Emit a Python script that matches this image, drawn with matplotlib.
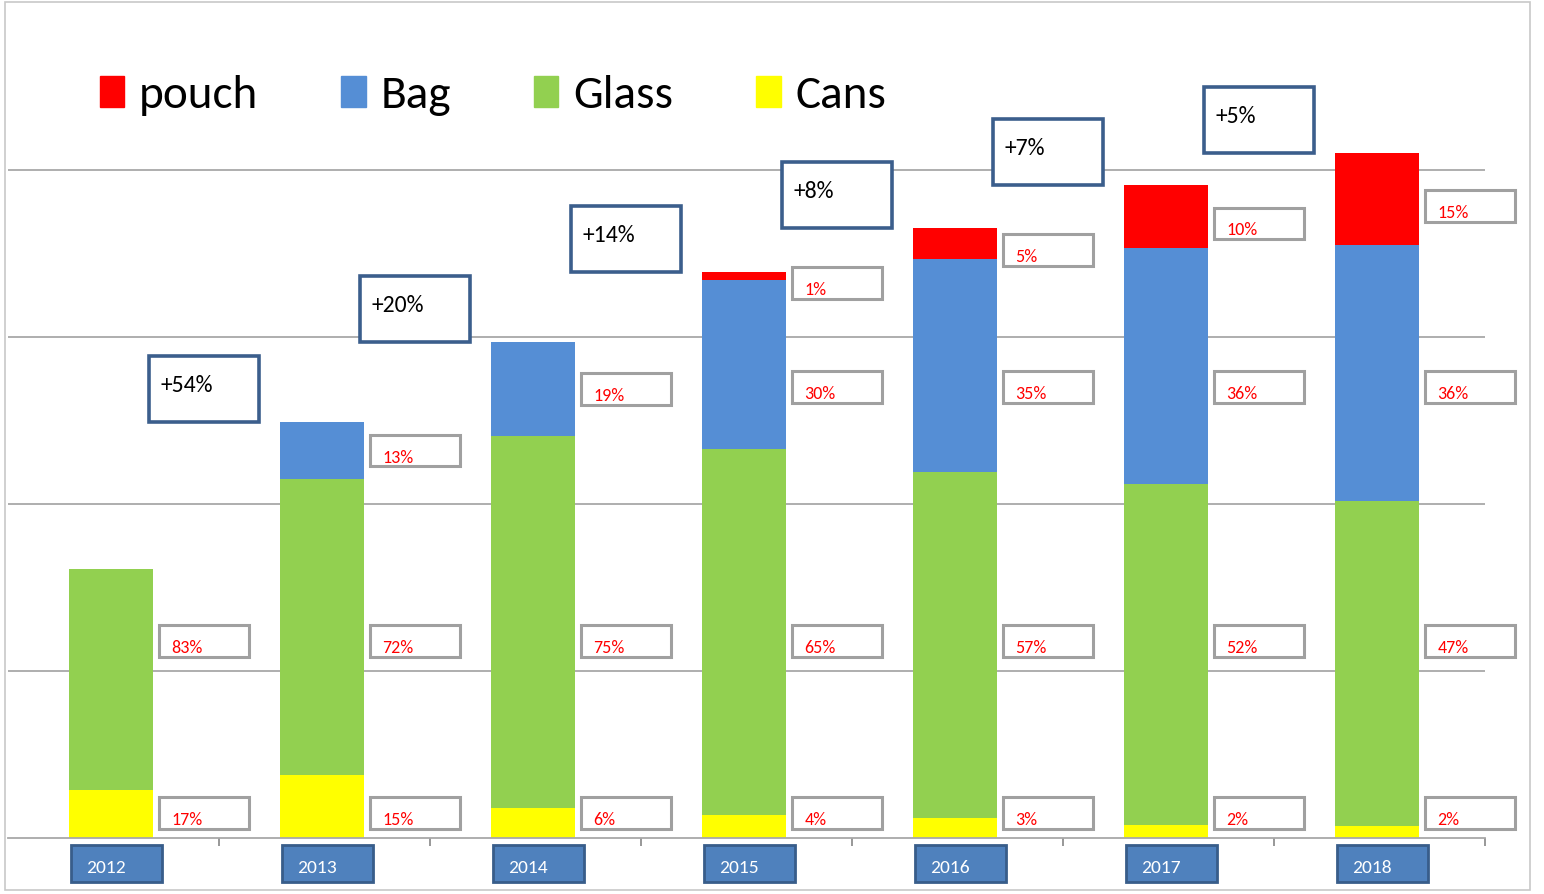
import matplotlib.pyplot as plt
from matplotlib.patches import Rectangle, Patch
from matplotlib.transforms import blended_transform_factory

plt.rcParams['font.family'] = ['Carlito', 'Liberation Sans Narrow', 'Roboto Condensed',
                               'Archivo Narrow', 'PT Sans Narrow', 'DejaVu Sans']

# данные (условные единицы, 100 = одна линия сетки)
years = ['2012', '2013', '2014', '2015', '2016', '2017', '2018']
cans = [29, 38, 18, 14, 12, 8, 7]
glass = [132, 177, 223, 219, 207, 204, 195]
bag = [0, 34, 56, 101, 128, 141, 153]
pouch = [0, 0, 0, 5, 18, 38, 55]

cans_pct = ['17%', '15%', '6%', '4%', '3%', '2%', '2%']
glass_pct = ['83%', '72%', '75%', '65%', '57%', '52%', '47%']
bag_pct = [None, '13%', '19%', '30%', '35%', '36%', '36%']
pouch_pct = [None, None, None, '1%', '5%', '10%', '15%']
growth = ['+54%', '+20%', '+14%', '+8%', '+7%', '+5%']

c_pouch, c_bag, c_glass, c_cans = '#ff0000', '#558ed5', '#92d050', '#ffff00'

fig = plt.figure(figsize=(15.44, 8.94), dpi=100)
ax = fig.add_axes([8 / 1544, 56 / 894, 1477 / 1544, 835 / 894])

x = list(range(len(years)))
w = 0.4
b1 = cans
b2 = [a + b for a, b in zip(b1, glass)]
b3 = [a + b for a, b in zip(b2, bag)]
total = [a + b for a, b in zip(b3, pouch)]

xb = [i - 0.012 for i in x]
ax.bar(xb, cans, w, color=c_cans, zorder=2)
ax.bar(xb, glass, w, bottom=b1, color=c_glass, zorder=2)
ax.bar(xb, bag, w, bottom=b2, color=c_bag, zorder=2)
ax.bar(xb, pouch, w, bottom=b3, color=c_pouch, zorder=2)

ax.set_xlim(-0.5, 6.5)
ax.set_ylim(0, 500)
ax.set_yticks([100, 200, 300, 400])
ax.yaxis.grid(True, color='#a8a8a8', lw=1.3, zorder=0)
ax.tick_params(axis='y', length=0, labelleft=False)
ax.set_xticks([i + 0.5 for i in x])
ax.tick_params(axis='x', length=6, color='#909090', width=1.3, labelbottom=False)
for s in ['top', 'right', 'left']:
    ax.spines[s].set_visible(False)
ax.spines['bottom'].set_color('#a8a8a8')
ax.spines['bottom'].set_linewidth(1.3)

# подписи с процентами справа от столбцов
bw, bh = 0.425, 19


def pct_box(i, yc, txt):
    left = i + w / 2 + 0.015
    ax.add_patch(Rectangle((left, yc - bh / 2), bw, bh, facecolor='white',
                           edgecolor='#a0a0a0', lw=2.2, zorder=3, clip_on=False))
    ax.text(left + 0.06, yc - bh / 2 + 0.5, txt, color='red', fontsize=13,
            ha='left', va='bottom', zorder=4)


for i in x:
    pct_box(i, 15, cans_pct[i])
    pct_box(i, 118, glass_pct[i])
    if bag_pct[i]:
        pct_box(i, min(b2[i] + bag[i] / 2, 270), bag_pct[i])
    if pouch_pct[i]:
        pct_box(i, b3[i] + pouch[i] / 2 - 4, pouch_pct[i])

# рамки с приростом между годами
for i, g in enumerate(growth):
    xc = i + 0.43
    y0 = total[i + 1]
    ax.add_patch(Rectangle((xc - 0.26, y0), 0.52, 39.5, facecolor='white',
                           edgecolor='#3b5e8c', lw=2.6, zorder=3))
    ax.text(xc - 0.205, y0 + 22, g, color='black', fontsize=17,
            ha='left', va='center', zorder=4)

# подписи годов под осью
tr = blended_transform_factory(ax.transData, ax.transAxes)
for i, yr in enumerate(years):
    ax.add_patch(Rectangle((i - 0.2, -0.0527), 0.43, 0.0443, transform=tr,
                           facecolor='#4f81bd', edgecolor='#385d8a', lw=2,
                           clip_on=False, zorder=3))
    ax.text(i - 0.13, -0.036, yr, transform=tr, color='white', fontsize=14,
            ha='left', va='center', zorder=4)

handles = [Patch(color=c_pouch, label='pouch'), Patch(color=c_bag, label='Bag'),
           Patch(color=c_glass, label='Glass'), Patch(color=c_cans, label='Cans')]
ax.legend(handles=handles, loc='center left', bbox_to_anchor=(0.062, 0.889),
          ncol=4, frameon=False, fontsize=34, handlelength=0.52, handleheight=0.62,
          handletextpad=0.32, columnspacing=1.75, borderpad=0, borderaxespad=0)

fig.patches.append(Rectangle((5 / 1544, 4 / 894), 1525 / 1544, 888 / 894,
                             transform=fig.transFigure, fill=False,
                             edgecolor='#c8c8c8', lw=1.2))

fig.savefig('out.png', dpi=100)
